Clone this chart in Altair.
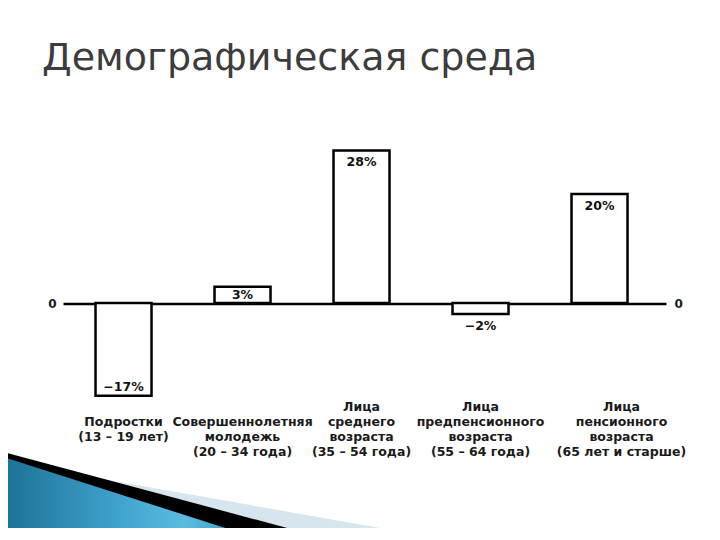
import altair as alt
import pandas as pd

# ---- chart data ----
categories = [
    "Подростки|(13 – 19 лет)",
    "Совершеннолетняя|молодежь|(20 – 34 года)",
    "Лица|среднего|возраста|(35 – 54 года)",
    "Лица|предпенсионного|возраста|(55 – 64 года)",
    "Лица|пенсионного|возраста|(65 лет и старше)",
]
values = [-17, 3, 28, -2, 20]

# ---- slide decoration (bottom-left ribbon), page pixel units ----
light_x = [40, 448]
light_top = [468, 540]
black_x = [0, 332]
black_top = [451, 540]
blue_x = [0, 263]
blue_top = [456, 540]
ribbon_bottom = 540

df = pd.DataFrame({"cat": categories, "value": values})
df["txt"] = [("−" if v < 0 else "") + f"{abs(v)}%" for v in values]

FONT = "DejaVu Sans"

xscale = alt.Scale(paddingInner=0.5294, paddingOuter=0.2983, align=0.458)
yscale = alt.Scale(domain=[-20, 30], nice=False, zero=False)

# bottom-align the multi-line labels by padding shorter ones with empty leading lines
label_expr = (
    "split((length(split(datum.label, '|')) == 2 ? '||' : "
    "(length(split(datum.label, '|')) == 3 ? '|' : '')) + datum.label, '|')"
)

x_axis = alt.Axis(title=None, ticks=False, domain=False, labelAngle=0,
                  labelExpr=label_expr,
                  labelBaseline="bottom", labelPadding=1,
                  labelLineHeight=15, labelOverlap=False, labelLimit=300,
                  labelFont=FONT, labelFontSize=12.5, labelFontWeight="bold",
                  labelColor="#1a1a1a",
                  labelOffset={"condition": {"test": "indexof(datum.value, '65 лет') >= 0", "value": 22},
                               "value": 0})

bars = alt.Chart(df).mark_bar(fill="white", stroke="black", strokeWidth=2.5).encode(
    x=alt.X("cat:N", sort=categories, scale=xscale, axis=x_axis),
    y=alt.Y("value:Q", scale=yscale,
            axis=alt.Axis(title=None, values=[0], ticks=False, domain=False,
                          grid=True, gridColor="black", gridWidth=2.5, gridOpacity=1,
                          labelPadding=7, labelFont=FONT, labelFontSize=12,
                          labelFontWeight="bold", labelColor="#1a1a1a")),
)

def label_layer(test, dy, right_axis=False):
    if right_axis:
        yax = alt.Axis(title=None, orient="right", values=[0], ticks=False, domain=False,
                       grid=False, labelPadding=8, labelFont=FONT, labelFontSize=12,
                       labelFontWeight="bold", labelColor="#1a1a1a")
    else:
        yax = None
    return alt.Chart(df).transform_filter(test).mark_text(
        font=FONT, fontSize=12.5, fontWeight="bold", color="#111111",
        baseline="middle", dy=dy
    ).encode(
        x=alt.X("cat:N", sort=categories, scale=xscale, axis=x_axis),
        y=alt.Y("value:Q", scale=yscale, axis=yax),
        text="txt:N",
    )

t1 = label_layer("datum.value >= 5", 12, right_axis=True)
t2 = label_layer("datum.value > 0 && datum.value < 5", 8.5)
t3 = label_layer("datum.value <= -5", -9)
t4 = label_layer("datum.value < 0 && datum.value > -5", 12)

main = alt.layer(bars, t1, t2, t3, t4).resolve_axis(y="independent")

dx_scale = alt.Scale(domain=[0, 720], range=[-63, 657], nice=False, zero=False)
dy_scale = alt.Scale(domain=[0, 540], range=[-139.5, 400.5], nice=False, zero=False)

def ribbon(xs, tops, fill):
    d = pd.DataFrame({"px": xs, "top": tops, "bottom": [ribbon_bottom] * len(xs)})
    return alt.Chart(d).mark_area(color=fill, opacity=1, clip=False).encode(
        x=alt.X("px:Q", scale=dx_scale, axis=None),
        y=alt.Y("top:Q", scale=dy_scale, axis=None),
        y2="bottom:Q",
    )

blue_grad = alt.Gradient(
    gradient="linear", x1=0, y1=0, x2=1, y2=0,
    stops=[alt.GradientStop(color="#1b6f95", offset=0),
           alt.GradientStop(color="#3fa3cc", offset=0.45),
           alt.GradientStop(color="#5bbbe0", offset=0.7),
           alt.GradientStop(color="#2d8fba", offset=1)],
)

deco = alt.layer(
    ribbon(light_x, light_top, "#d7e6ee"),
    ribbon(black_x, black_top, "#000000"),
    ribbon(blue_x, blue_top, blue_grad),
)

chart = alt.layer(deco, main).resolve_scale(x="independent", y="independent").properties(
    width=603, height=272.5,
    autosize="none",
    background="white",
    padding={"left": 55, "top": 131.5, "right": 46, "bottom": 116},
    title=alt.TitleParams("Демографическая среда", anchor="start", frame="group",
                          font=FONT, fontSize=38, fontWeight="normal", color="#3c3c3c",
                          baseline="alphabetic", offset=32, dx=-21),
).configure_view(stroke=None)

chart.save("out.html", embed_options={"renderer": "svg", "actions": False})
